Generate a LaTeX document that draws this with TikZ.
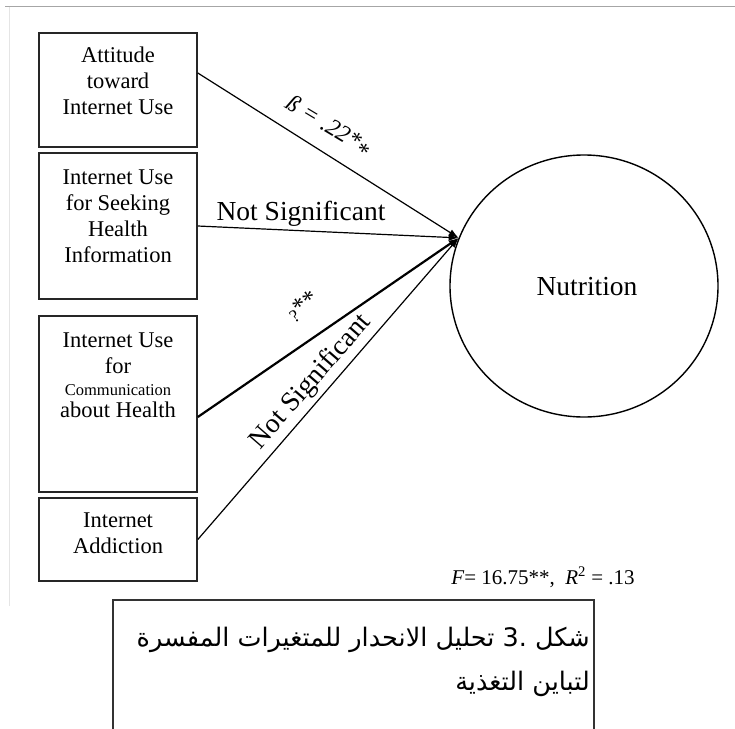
\documentclass[tikz,border=0pt]{standalone}
\usepackage{fontspec}
\setmainfont{Liberation Serif}
\newfontfamily\arabicfont[Script=Arabic]{DejaVu Sans}
\TeXXeTstate=1
\usetikzlibrary{arrows.meta,shapes.geometric}

\begin{document}
\begin{tikzpicture}[x=1pt,y=-1pt,
  box/.style={draw=black!85,line width=1.6pt,minimum width=158pt,inner sep=0pt},
  boxtext/.style={align=center,font=\fontsize{22.5}{26}\selectfont,inner sep=0pt},
  path/.style={draw=black,line width=1.2pt,-{Latex[length=10pt,width=7pt]}},
  heavy/.style={path,line width=2.2pt},
  tag/.style={font=\fontsize{27.5}{30}\selectfont,inner sep=0pt},
  capline/.style={font=\arabicfont\fontsize{25.5}{28}\selectfont,anchor=east,inner sep=0pt},
  frame/.style={line width=1.4pt}]
\useasboundingbox (0,0) rectangle (735,728);

% page edges
\draw[gray!70,line width=1.5pt] (5,6.5) -- (735,6.5);
\draw[gray!20,line width=1pt] (9,6.5) -- (9,606);

% predictor boxes
\node[box,minimum height=114pt] (b1) at (118,90) {};
\node[box,minimum height=146pt] (b2) at (118,226) {};
\node[box,minimum height=176pt] (b3) at (118,404) {};
\node[box,minimum height=83pt]  (b4) at (118,539.5) {};

\node[boxtext] (t1) at (118,81) {Attitude\\toward\\Internet Use};
\node[boxtext] (t2) at (118,216.5) {Internet Use\\for Seeking\\Health\\Information};
\node[boxtext] (t3) at (118,375) {Internet Use\\for\\[-4pt]{\fontsize{16.5}{18}\selectfont Communication}\\[-4pt]about Health};
\node[boxtext] (t4) at (118,533) {Internet\\Addiction};

% outcome
\node[ellipse,draw=black,line width=1.4pt,minimum width=268pt,minimum height=262pt,inner sep=0pt] (nut) at (584,286) {};
\node[tag] (nl) at (587,287) {Nutrition};
\coordinate (tip) at (nut.159);

% paths
\draw[path] ([yshift=17pt]b1.east) -- (tip);
\draw[path] (b2.east) -- (tip);
\draw[heavy] ([yshift=-13pt]b3.east) -- (tip);
\draw[path] (b4.east) -- (tip);

% coefficients
\node[font=\fontsize{24}{26}\selectfont\itshape,rotate=-31,inner sep=0pt] (c1) at (328,127) {ß = .22*\raisebox{-6pt}{*}};
\node[tag,anchor=base] (c2) at (301,220) {Not Significant};
\node[font=\fontsize{25}{26}\selectfont,rotate=34,inner sep=0pt] (c3) at (303,306) {\raisebox{-3pt}{\fontsize{18}{18}\selectfont ?}**};
\node[tag,rotate=49] (c4) at (311,382) {Not Significant};

% model fit
\node[font=\fontsize{21}{24}\selectfont,inner sep=0pt] (fit) at (543,577) {\textit{F}= 16.75**,\ \ \textit{R}\textsuperscript{2} = .13};

% caption frame
\draw[black!80,frame] (113,729) -- (113,600) -- (594,600) -- (594,729);
\node[capline] (cap1) at (590,640)
  {\beginR شكل \beginL.3\endL{} تحليل الانحدار للمتغيرات المفسرة\endR};
\node[capline] (cap2) at (590,684)
  {\beginR لتباين التغذية\endR};
\end{tikzpicture}
\end{document}
